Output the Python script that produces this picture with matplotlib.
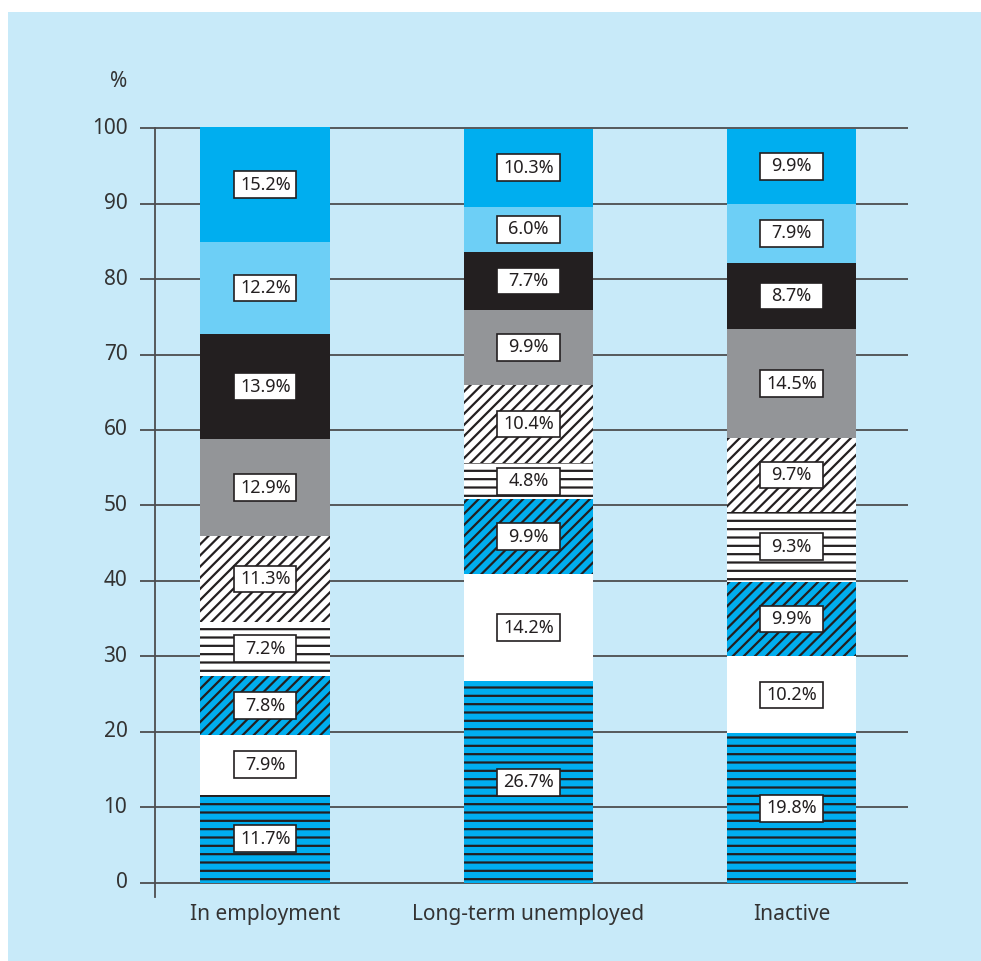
import matplotlib.pyplot as plt
from matplotlib.patches import Rectangle

plt.rcParams['font.family'] = ['Noto Sans', 'DejaVu Sans']
plt.rcParams['hatch.linewidth'] = 1.6

groups = ['In employment', 'Long-term unemployed', 'Inactive']

# segments from the bottom of each bar to the top (percent)
seg1 = [11.7, 26.7, 19.8]
seg2 = [7.9, 14.2, 10.2]
seg3 = [7.8, 9.9, 9.9]
seg4 = [7.2, 4.8, 9.3]
seg5 = [11.3, 10.4, 9.7]
seg6 = [12.9, 9.9, 14.5]
seg7 = [13.9, 7.7, 8.7]
seg8 = [12.2, 6.0, 7.9]
seg9 = [15.2, 10.3, 9.9]

series = [seg1, seg2, seg3, seg4, seg5, seg6, seg7, seg8, seg9]
styles = [
    ('#00aeef', '--'),
    ('#ffffff', None),
    ('#00aeef', '///'),
    ('#ffffff', '--'),
    ('#ffffff', '///'),
    ('#939598', None),
    ('#231f20', None),
    ('#6dcff6', None),
    ('#00aeef', None),
]

ink = '#231f20'
bg = '#c8eaf9'

fig = plt.figure(figsize=(9.81, 9.61), dpi=100, facecolor=bg)
# white strips along the top and left edges
fig.patches.append(Rectangle((0, 0), 8 / 981, 1, transform=fig.transFigure,
                             facecolor='white', edgecolor='none', zorder=-10))
fig.patches.append(Rectangle((0, 1 - 12 / 961), 1, 12 / 961, transform=fig.transFigure,
                             facecolor='white', edgecolor='none', zorder=-10))

ax = fig.add_axes([140 / 981, 63 / 961, 768 / 981, 777.5 / 961])
ax.set_facecolor('none')
ax.set_xlim(-0.477, 2.443)
ax.set_ylim(-2, 101)

for y in range(0, 101, 10):
    ax.axhline(y, color='#4d4d4f', lw=1.3, zorder=1)
    ax.text(-0.525, y, str(y), ha='right', va='center', fontsize=15, color='#333333')
ax.plot([-0.42, -0.42], [-1.85, 100], color='#4d4d4f', lw=1.3, zorder=1)
ax.text(-0.56, 106.2, '%', ha='center', va='center', fontsize=15, color='#333333',
        clip_on=False)

x = [0, 1, 2]
width = 0.494
bottom = [0, 0, 0]
box_w, box_h = 0.236, 3.55
for vals, (fc, hatch) in zip(series, styles):
    ax.bar(x, vals, width, bottom=bottom, color=fc, edgecolor=ink, linewidth=0,
           hatch=hatch, zorder=2)
    for xi, v, b in zip(x, vals, bottom):
        yc = b + v / 2
        ax.add_patch(Rectangle((xi - box_w / 2, yc - box_h / 2), box_w, box_h,
                               facecolor='white', edgecolor=ink, lw=1.2, zorder=3))
        ax.text(xi, yc, f'{v:.1f}%', ha='center', va='center', fontsize=13,
                color=ink, zorder=4)
    bottom = [b + v for b, v in zip(bottom, vals)]

for xi, g in zip(x, groups):
    ax.text(xi, -4.2, g, ha='center', va='center', fontsize=15, color='#333333',
            clip_on=False)

for s in ax.spines.values():
    s.set_visible(False)
ax.set_xticks([])
ax.set_yticks([])

plt.savefig('out.png', dpi=100, facecolor=fig.get_facecolor())
